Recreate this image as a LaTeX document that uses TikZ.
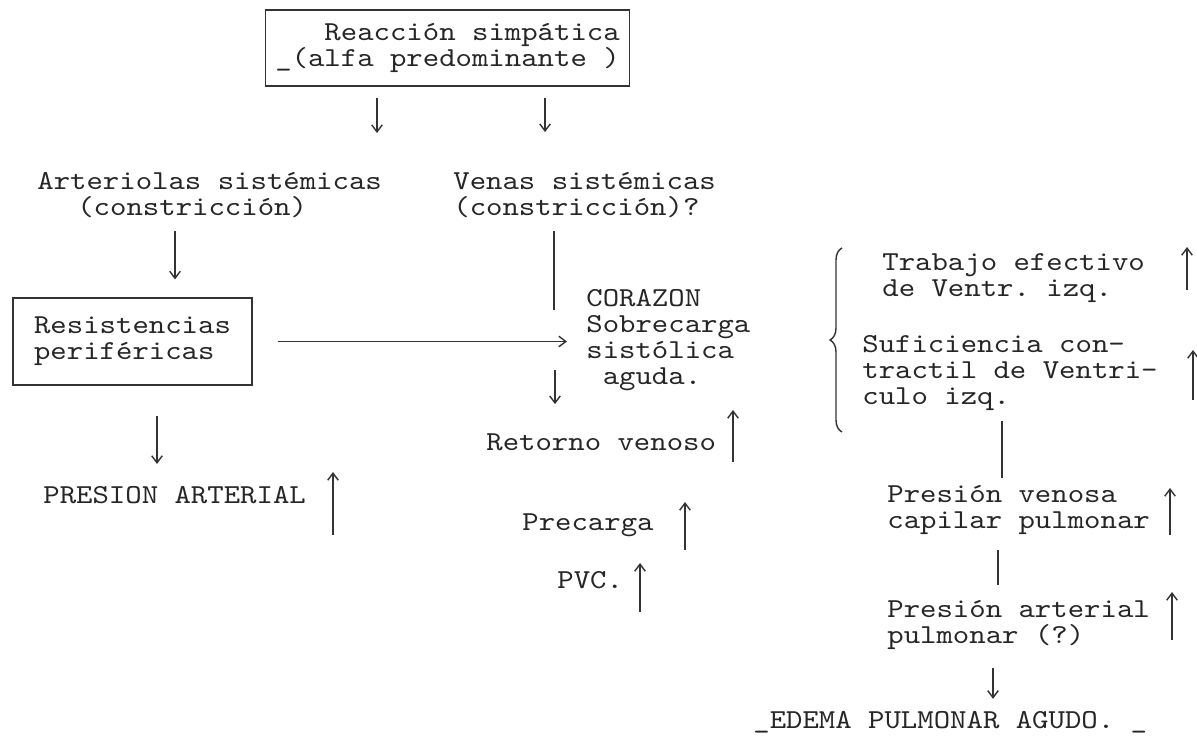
\documentclass[tikz,border=0pt]{standalone}
\usepackage{fontspec}
\usepackage{tikz}
\usetikzlibrary{arrows.meta}
\usetikzlibrary{decorations.pathreplacing}
\newfontfamily\maquina[Extension=.otf, FakeStretch=1.14]{lmmono10-regular}
\newcommand{\letra}{\maquina\fontsize{15.6pt}{14.7pt}\selectfont\lineskiplimit=-20pt\relax\frenchspacing}
\newcommand{\sube}[3]{\draw[sube] (#1,#2) -- (#1,#3);}

\begin{document}
\begin{tikzpicture}[x=0.02cm,y=-0.02cm,
  texto/.style={font=\letra, inner sep=0pt, align=left, text=black!85},
  caja/.style={texto, draw=black!80, line width=0.6pt},
  flecha/.style={draw=black!80, line width=0.8pt, -{Straight Barb[length=4pt,width=6pt]}},
  linea/.style={draw=black!80, line width=0.8pt},
  sube/.style={flecha},
  llave/.style={draw=black!80, line width=0.8pt, decorate, decoration={brace, amplitude=0.24cm}}]
\useasboundingbox (0,0) rectangle (1197,736);
\node[caja, minimum width=7.3cm, minimum height=1.52cm] (simp) at (447.5,48)
  {\phantom{xxx}Reacción simpática\\\_(alfa predominante )};
\node[texto, anchor=west] (art) at (37,195) {Arteriolas sistémicas\\\hspace*{0.8cm}(constricción)};
\node[texto, anchor=west] (ven) at (453,195) {Venas sistémicas\\(constricción)?};
\node[caja, minimum width=4.78cm, minimum height=1.74cm] (res) at (132.5,341.5) {Resistencias\\periféricas};
\node[texto, anchor=west] (cor) at (586,340) {CORAZON\\Sobrecarga\\sistólica\\\phantom{a}aguda.};
\node[texto, anchor=west] (ret) at (486,442) {Retorno venoso};
\node[texto, anchor=west] (pres) at (43,495) {PRESION ARTERIAL};
\node[texto, anchor=west] (prec) at (522,525) {Precarga};
\node[texto, anchor=west] (pvc) at (557,580) {PVC.};
\node[texto, anchor=west] (trab) at (882,278) {Trabajo efectivo\\de Ventr. izq.};
\node[texto, anchor=west] (suf) at (862,373) {Suficiencia con-\\tractil de Ventri-\\culo izq.};
\node[texto, anchor=west] (pvcp) at (887,510) {Presión venosa\\capilar pulmonar};
\node[texto, anchor=west] (pap) at (887,625) {Presión arterial\\pulmonar (?)};
\node[texto, anchor=west] (edema) at (753,722) {\_EDEMA PULMONAR AGUDO. \_};

\draw[flecha, shorten <=0.22cm, shorten >=0.78cm] (simp.south -| 377,0) -- (art.north -| 377,0);
\draw[flecha, shorten <=0.22cm, shorten >=0.8cm] (simp.south -| 545,0) -- (ven.north -| 545,0);
\draw[flecha, shorten <=0.26cm, shorten >=0.36cm] (art.south -| 175,0) -- (res.north -| 175,0);
\draw[flecha, shorten <=0.5cm, shorten >=0.38cm] (res.east) -- (res.east -| cor.west);
\draw[linea, shorten <=0.26cm, shorten >=0.6cm] (ven.south -| 554,0) -- (cor.west -| 554,0);
\draw[flecha, shorten <=0.6cm, shorten >=0.58cm] (cor.west -| 555,0) -- (ret.north -| 555,0);
\draw[flecha, shorten <=0.6cm, shorten >=0.44cm] (res.south -| 157,0) -- (pres.north -| 157,0);
\draw[linea, shorten <=0.2cm, shorten >=0.14cm] (suf.south -| 1002,0) -- (pvcp.north -| 1002,0);
\draw[linea, shorten <=0.3cm, shorten >=0.3cm] (pvcp.south -| 998,0) -- (pap.north -| 998,0);
\draw[flecha, shorten <=0.36cm, shorten >=0.24cm] (pap.south -| 993,0) -- (edema.north -| 993,0);

\draw[llave] (842,432) -- (842,248);

\sube{333}{535}{472}
\sube{733}{462}{410}
\sube{685}{550}{502}
\sube{640}{612}{563}
\sube{1187}{290}{247}
\sube{1193}{400}{350}
\sube{1170}{535}{488}
\sube{1172}{640}{592}
\end{tikzpicture}
\end{document}
